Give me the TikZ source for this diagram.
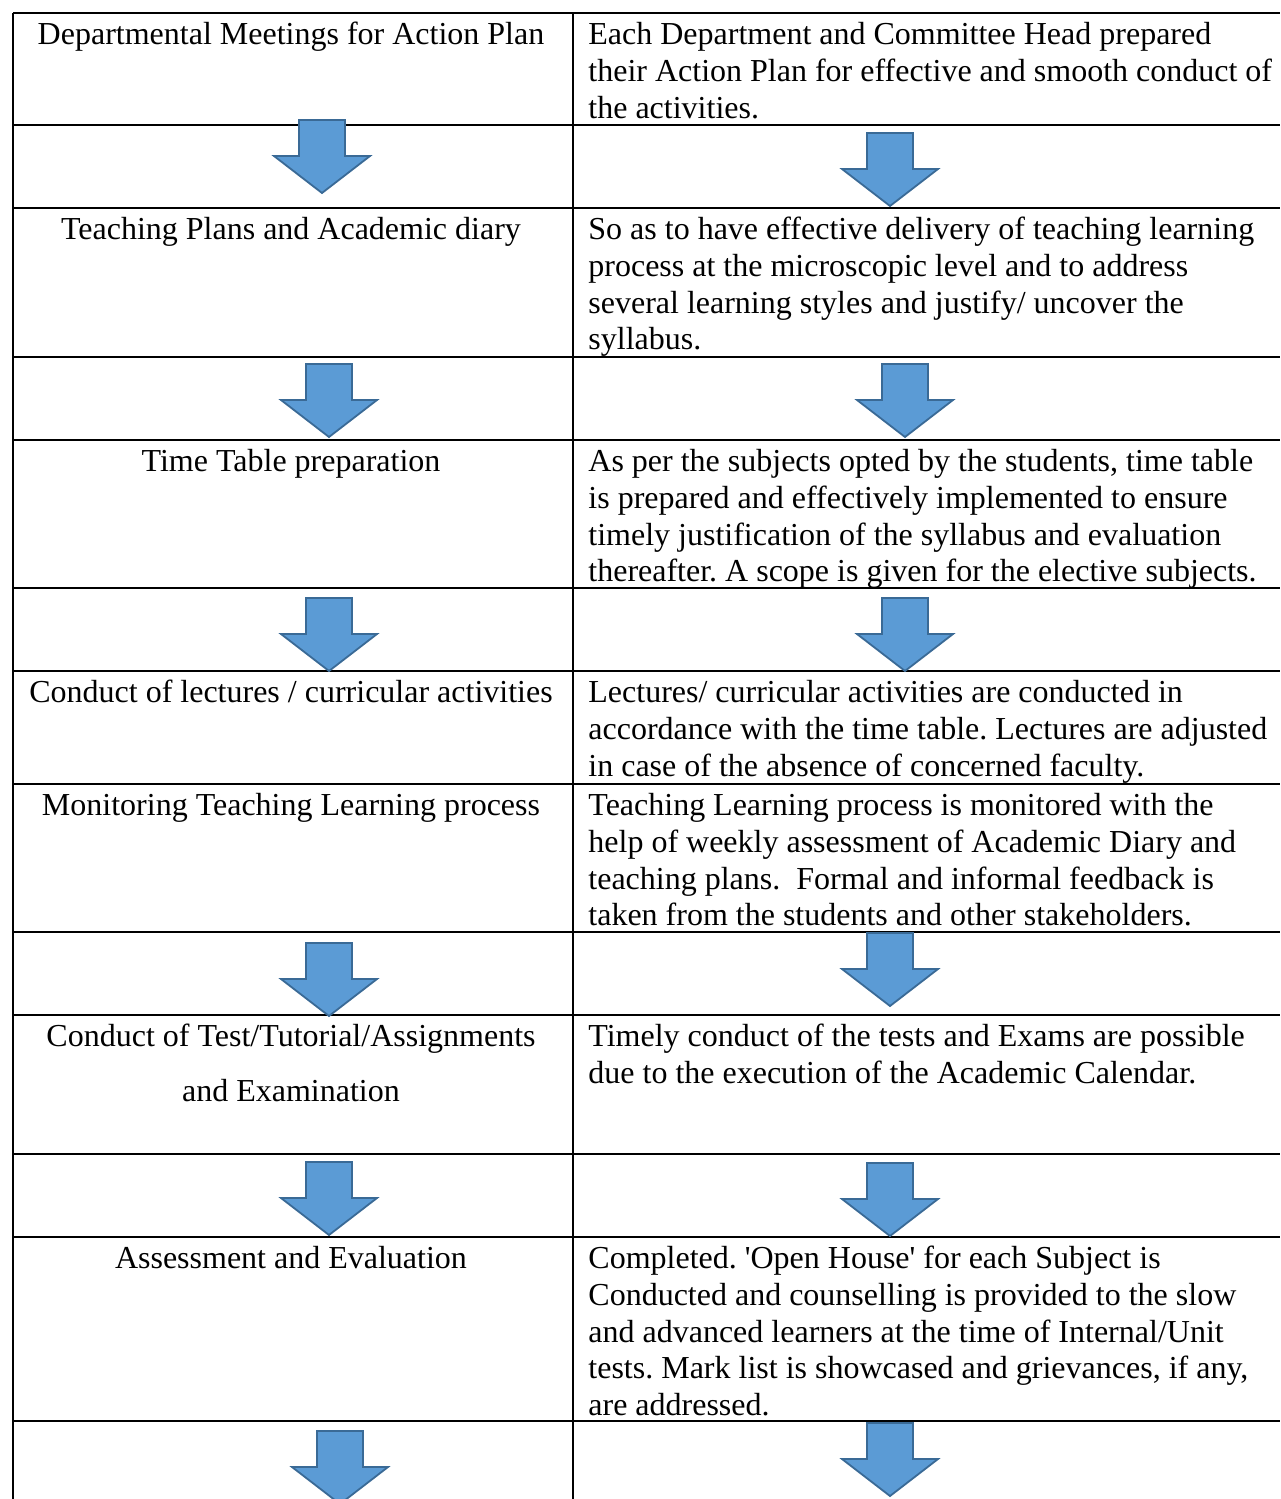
\documentclass[tikz,border=0pt]{standalone}
\usepackage{fontspec}
\setmainfont{Liberation Serif}
\definecolor{arrfill}{HTML}{5B9BD5}
\definecolor{arrline}{HTML}{3A6A96}
\newcommand\fs{\rule{0pt}{13pt}}
\tikzset{
  gridline/.style={line width=1pt, black},
  celltext/.style={inner sep=0pt, font=\fontsize{16pt}{18.4pt}\selectfont\frenchspacing},
  lcell/.style={celltext, anchor=north, align=center},
  rcell/.style={celltext, anchor=north west, align=left},
  downarrow/.pic={
    \draw[fill=arrfill, draw=arrline, line width=0.9pt, line join=miter]
      (-23,0) -- (23,0) -- (23,36) -- (48,36) -- (0,73) -- (-48,36) -- (-23,36) -- cycle;
  }
}
\begin{document}
\frenchspacing
\begin{tikzpicture}[x=0.5pt, y=-0.5pt]
\useasboundingbox (0,0) rectangle (1280,1499);
\fill[white] (0,0) rectangle (1280,1499);
\clip (0,0) rectangle (1280,1499);

% table grid
\foreach \yy in {13,125,208,357,440,588,671,784,932,1015,1154,1237}
  \draw[gridline] (13,\yy) -- (1280,\yy);
\draw[line width=1.3pt] (13,1421) -- (1280,1421);
\draw[gridline] (13,12.5) -- (13,1499);
\draw[gridline] (573,12.5) -- (573,1499);

% left column texts
\node[lcell] (l1) at (291,18) {\fs Departmental Meetings for Action Plan};
\node[lcell] (l2) at (291,213) {\fs Teaching Plans and Academic diary};
\node[lcell] (l3) at (291,445) {\fs Time Table preparation};
\node[lcell] (l4) at (291,676) {\fs Conduct of lectures / curricular activities};
\node[lcell] (l5) at (291,789) {\fs Monitoring Teaching Learning process};
\node[lcell] (l6) at (291,1020) {\fs Conduct of Test/Tutorial/Assignments\\[9pt] and Examination};
\node[lcell] (l7) at (291,1242) {\fs Assessment and Evaluation};

% right column texts
\node[rcell] (r1) at (588,18) {\fs Each Department and Committee Head prepared\\
their Action Plan for effective and smooth conduct of\\
the activities.};
\node[rcell] (r2) at (588,213) {\fs So as to have effective delivery of teaching learning\\
process at the microscopic level and to address\\
several learning styles and justify/ uncover the\\
syllabus.};
\node[rcell] (r3) at (588,445) {\fs As per the subjects opted by the students, time table\\
is prepared and effectively implemented to ensure\\
timely justification of the syllabus and evaluation\\
thereafter. A scope is given for the elective subjects.};
\node[rcell] (r4) at (588,676) {\fs Lectures/ curricular activities are conducted in\\
accordance with the time table. Lectures are adjusted\\
in case of the absence of concerned faculty.};
\node[rcell] (r5) at (588,789) {\fs Teaching Learning process is monitored with the\\
help of weekly assessment of Academic Diary and\\
teaching plans.~ Formal and informal feedback is\\
taken from the students and other stakeholders.};
\node[rcell] (r6) at (588,1020) {\fs Timely conduct of the tests and Exams are possible\\
due to the execution of the Academic Calendar.};
\node[rcell] (r7) at (588,1242) {\fs Completed. \textquotesingle Open House\textquotesingle\ for each Subject is\\
Conducted and counselling is provided to the slow\\
and advanced learners at the time of Internal/Unit\\
tests. Mark list is showcased and grievances, if any,\\
are addressed.};

% arrows
\pic at (322,120) {downarrow};
\pic at (890,133) {downarrow};
\pic at (329,364) {downarrow};
\pic at (905,364) {downarrow};
\pic at (329,598) {downarrow};
\pic at (905,598) {downarrow};
\pic at (329,943) {downarrow};
\pic at (890,933) {downarrow};
\pic at (329,1162) {downarrow};
\pic at (890,1163) {downarrow};
\pic at (340,1431) {downarrow};
\pic at (890,1423) {downarrow};
\end{tikzpicture}
\end{document}
